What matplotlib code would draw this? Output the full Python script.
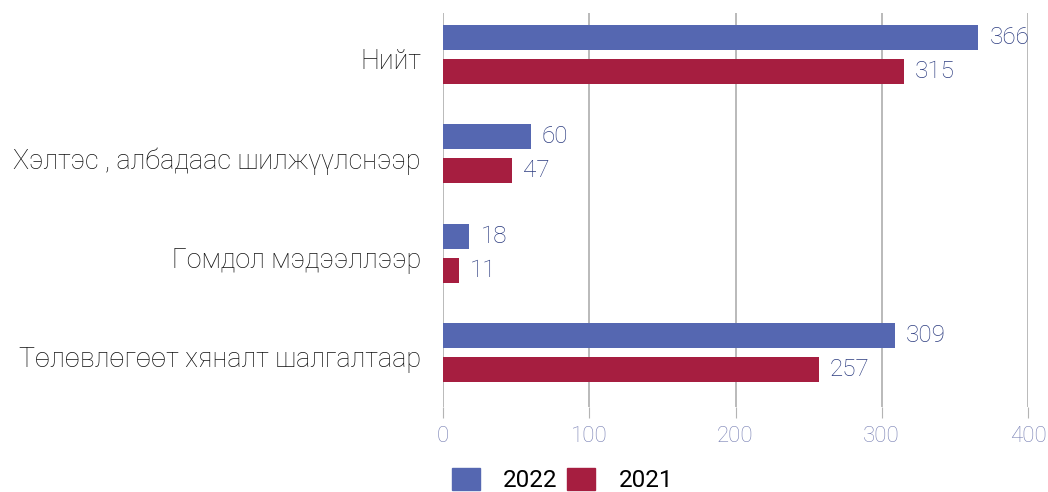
import matplotlib.pyplot as plt
import numpy as np
from matplotlib.patches import Patch

plt.rcParams['font.family'] = ['Roboto', 'DejaVu Sans']

categories = ["Нийт", "Хэлтэс , албадаас шилжүүлснээр", "Гомдол мэдээллээр",
              "Төлөвлөгөөт хяналт шалгалтаар"]
values_2022 = [366, 60, 18, 309]
values_2021 = [315, 47, 11, 257]
years = ["2022", "2021"]

blue = "#5567b1"
red = "#a61e40"
label_col = "#2c3c80"
tick_col = "#7880b4"

fig = plt.figure(figsize=(10.48, 4.92), dpi=100)
# axes from x=443..1028 px, y=13..407 px
ax = fig.add_axes([443 / 1048, 1 - 407 / 492, 585 / 1048, 394 / 492])

y = np.arange(len(categories))
h = 0.252
off = 0.171
b1 = ax.barh(y - off, values_2022, height=h, color=blue, zorder=3)
b2 = ax.barh(y + off, values_2021, height=h, color=red, zorder=3)

for bars, vals in ((b1, values_2022), (b2, values_2021)):
    for r, v in zip(bars, vals):
        ax.annotate(str(v), (r.get_width(), r.get_y() + r.get_height() / 2),
                    xytext=(8, 0), textcoords='offset points',
                    va='center', ha='left', fontsize=17.5, color=label_col, fontweight='light')

ax.set_xlim(0, 400)
ax.set_ylim(3.549, -0.418)
ax.set_xticks([0, 100, 200, 300, 400])
ax.set_yticks(y + 0.04)
ax.set_yticklabels(categories, fontsize=19.4, fontweight='light', color='#111111')
ax.xaxis.grid(True, color='#b4b4b4', linewidth=1.3, zorder=0)
ax.tick_params(axis='y', length=0, pad=16)
ax.tick_params(axis='x', length=8, color='#b4b4b4', labelcolor=tick_col, labelsize=16, pad=6)
for lab in ax.get_xticklabels():
    lab.set_fontweight('light')
for s in ax.spines.values():
    s.set_visible(False)

handles = [Patch(color=blue), Patch(color=red)]
fig.legend(handles, years, loc='center left', bbox_to_anchor=(440 / 1048, 12 / 492), ncol=2,
           frameon=False, fontsize=17.5, handlelength=1.15, handleheight=1.0,
           handletextpad=0.95, columnspacing=0.4, borderpad=0.0)

fig.savefig("out.png", dpi=100)
